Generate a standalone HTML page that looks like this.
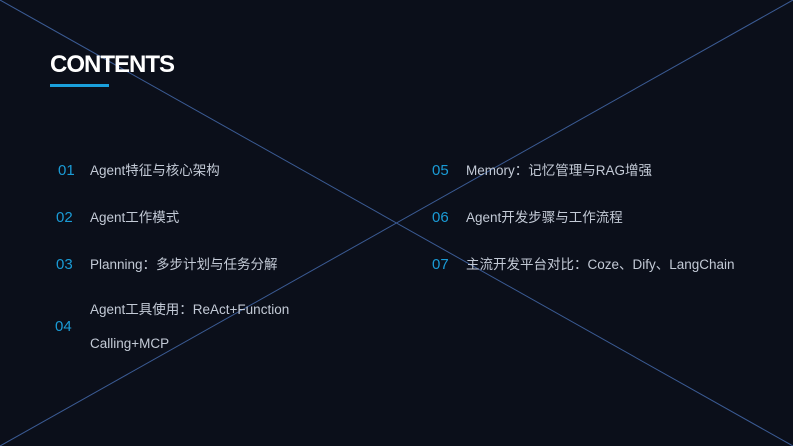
<!DOCTYPE html>
<html><head><meta charset="utf-8"><style>
body{margin:0;width:793px;height:446px;background:#0b0f1a;position:relative;overflow:hidden;font-family:"Liberation Sans","Noto Sans CJK SC",sans-serif}
svg{position:absolute;left:0;top:0}
.t{position:absolute;left:50px;top:51px;color:#fff;font-weight:bold;font-size:24px;letter-spacing:-1px}
.u{position:absolute;left:50px;top:84px;width:59px;height:3px;background:#1aa0dc}
.n{position:absolute;color:#1a9bd6;font-size:15px;line-height:20px}
.x{position:absolute;color:#c3cad6;font-size:13.5px;line-height:20px;white-space:nowrap}
</style></head><body>
<svg width="793" height="446"><line x1="0" y1="0" x2="793" y2="446" stroke="#3b5b94" stroke-width="1"/><line x1="0" y1="446" x2="793" y2="0" stroke="#3b5b94" stroke-width="1"/></svg>
<div class="t">CONTENTS</div><div class="u"></div>
<div class="n" style="left:58px;top:161px">01</div><div class="x" style="left:90px;top:161px">Agent特征与核心架构</div>
<div class="n" style="left:56px;top:208px">02</div><div class="x" style="left:90px;top:208px">Agent工作模式</div>
<div class="n" style="left:56px;top:255px">03</div><div class="x" style="left:90px;top:255px">Planning：多步计划与任务分解</div>
<div class="n" style="left:55px;top:317px">04</div><div class="x" style="left:90px;top:300px">Agent工具使用：ReAct+Function</div>
<div class="x" style="left:90px;top:334px">Calling+MCP</div>
<div class="n" style="left:432px;top:161px">05</div><div class="x" style="left:466px;top:161px">Memory：记忆管理与RAG增强</div>
<div class="n" style="left:432px;top:208px">06</div><div class="x" style="left:466px;top:208px">Agent开发步骤与工作流程</div>
<div class="n" style="left:432px;top:255px">07</div><div class="x" style="left:466px;top:255px">主流开发平台对比：Coze、Dify、LangChain</div>
</body></html>
